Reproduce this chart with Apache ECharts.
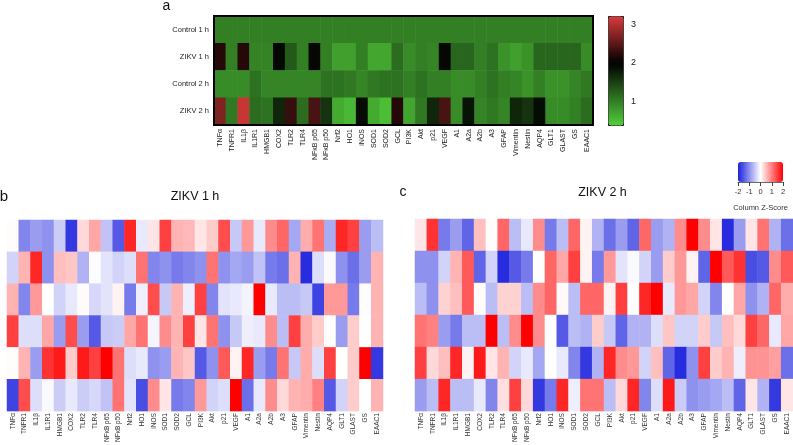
<!DOCTYPE html>
<html><head><meta charset="utf-8">
<script src="https://cdn.jsdelivr.net/npm/echarts@6/dist/echarts.min.js"></script>
<style>html,body{margin:0;padding:0;background:#fff}#c{width:793px;height:445px}</style>
</head><body><div id="c"></div>
<script>
const genes = ['TNFα','TNFR1','IL1β','IL1R1','HMGB1','COX2','TLR2','TLR4','NFκB p65','NFκB p50','Nrf2','HO1','iNOS','SOD1','SOD2','GCL','PI3K','Akt','p21','VEGF','A1','A2a','A2b','A3','GFAP','Vimentin','Nestin','AQP4','GLT1','GLAST','GS','EAAC1'];
const groupsA = ['Control 1 h','ZIKV 1 h','Control 2 h','ZIKV 2 h'];
const foldTicks = [1, 2, 3];
const zTicks = [-2, -1, 0, 1, 2];

// Panel a: fold change
const ctrl1h = [1,1,1,1,1,1,1,1,1,1,1,1,1,1,1,1,1,1,1,1,1,1,1,1,1,1,1,1,1,1,1,1];
const zikv1h = [2.2,1.0,2.2,0.97,0.97,1.95,1.3,1.0,1.97,1.0,0.75,0.75,1.0,0.68,0.68,1.15,0.9,1.0,0.95,1.97,1.2,1.2,1.0,1.1,0.85,0.75,0.85,1.2,1.2,1.2,1.2,0.9];
const ctrl2h = [0.9,0.9,0.9,1.1,0.95,0.95,0.95,0.95,0.95,1.1,1.1,1.05,0.95,1.05,1.1,1.1,1.0,1.1,1.0,1.0,0.9,0.9,1.0,1.1,1.0,0.95,0.85,1.0,0.85,0.85,0.95,1.05];
const zikv2h = [2.7,1.05,3.1,1.15,1.1,1.7,2.3,1.15,2.4,1.6,0.65,0.55,1.9,0.65,0.5,2.2,0.7,1.05,1.7,2.4,0.9,1.85,0.95,1.05,0.95,1.7,1.6,1.9,0.9,0.9,1.0,1.15];

// Panel b: ZIKV 1 h z-scores (rows top to bottom)
const bRow1 = [0.02,-1.1,-0.9,-1.0,-0.45,-1.8,0.3,0.7,-0.55,-1.5,1.7,-0.2,0.2,1.5,0.6,0.55,0.2,0.4,1.4,-0.5,0.8,-0.2,0.9,1.2,-0.8,0.65,1.1,-0.75,1.7,1.5,-0.9,-0.6];
const bRow2 = [-0.4,0.6,1.7,-1.0,0.5,0.45,-0.7,-0.02,-0.25,-0.4,-0.3,1.1,-1.1,-1.0,-1.2,-1.1,-1.0,1.1,-1.0,-0.8,-0.9,-0.55,-1.2,-1.3,0.6,-1.9,-0.3,-0.05,-1.0,-1.3,-0.9,0.6];
const bRow3 = [0.6,-1.1,0.8,0.0,-0.4,-0.2,0.03,-0.35,-0.25,0.1,-1.2,-0.15,1.4,-0.5,0.6,-0.15,1.5,-1.1,-0.25,-0.2,-0.1,2.0,-0.2,-0.6,-0.6,-0.5,-1.7,0.8,0.8,-1.2,-0.02,0.6];
const bRow4 = [1.5,-0.3,-0.3,0.7,-0.9,1.4,-0.9,-1.5,-0.5,-0.45,0.7,1.1,-0.1,0.9,0.6,1.5,0.2,1.1,-1.0,-0.5,-0.15,-0.2,0.9,-0.6,1.5,0.65,0.4,0.02,-0.9,0.4,0.0,0.6];
const bRow5 = [0.02,0.6,-0.9,1.6,1.8,0.4,1.8,1.5,2.0,1.1,-0.3,-0.2,-1.0,-0.9,0.6,0.45,-1.5,-1.0,1.3,0.1,1.7,-0.9,-1.2,1.1,-0.5,0.65,-0.3,1.5,0.0,0.4,2.0,-1.8];
const bRow6 = [-1.7,1.4,-0.3,-0.05,-0.45,-0.2,-0.45,-0.35,-0.55,1.1,-0.25,-1.6,0.9,0.2,-1.2,-1.1,0.8,-0.4,-0.3,2.0,-1.3,-0.2,0.9,0.3,0.6,0.65,1.0,-1.5,-0.4,0.4,0.0,0.6];

// Panel c: ZIKV 2 h z-scores (rows top to bottom)
const cRow1 = [0.2,1.6,-1.2,-0.9,-1.4,0.5,0.02,1.2,-0.6,-0.2,0.9,-1.2,-0.6,1.2,0.1,-0.7,-1.3,-0.9,-1.4,1.2,-0.9,-0.7,0.9,2.0,0.9,0.2,-1.9,-0.9,0.2,1.1,-0.7,-1.3];
const cRow2 = [-1.0,-1.0,-0.4,0.6,1.3,-1.4,-0.4,-1.9,-1.5,-1.2,0.0,1.2,0.7,1.5,0.1,-1.2,0.8,-0.25,-0.05,-0.4,-0.9,0.4,0.8,0.1,-1.4,2.0,1.3,1.6,-1.6,-1.5,0.9,1.3];
const cRow3 = [-0.6,-1.0,0.35,0.5,1.3,0.02,-0.6,0.35,0.35,-0.6,0.9,1.2,0.05,-0.6,1.2,1.2,0.1,1.5,0.0,1.7,2.0,-0.2,0.8,0.7,-0.4,-1.1,0.0,0.7,-1.0,-0.7,1.2,0.65];
const cRow4 = [1.1,1.0,-0.9,-1.2,-0.6,-0.6,2.0,-0.6,0.9,2.0,0.9,0.0,-1.5,-0.6,-0.7,0.4,-0.5,-1.4,-0.7,-0.7,-0.3,0.45,-0.4,-0.4,0.4,-0.5,0.5,0.3,1.5,1.2,-0.2,0.7];
const cRow5 = [1.5,0.3,0.5,1.7,0.1,1.8,0.2,0.6,-0.4,-0.2,-0.8,0.0,-0.2,-1.1,-1.8,-0.7,1.7,0.9,0.8,-0.4,0.5,-1.4,-1.9,-1.0,1.5,0.4,0.6,-0.15,0.85,0.85,0.75,-1.3];
const cRow6 = [-0.9,-0.6,1.7,-0.6,-0.6,-0.2,-1.1,0.25,1.5,0.3,-1.8,-1.2,1.7,-0.15,1.1,1.1,-0.6,0.3,1.7,-1.1,-0.3,1.8,-0.45,-1.0,-0.9,-0.8,-0.6,-1.4,0.2,-0.7,-1.8,0.2];

const rowsA = [ctrl1h, zikv1h, ctrl2h, zikv2h];
const rowsB = [bRow1,bRow2,bRow3,bRow4,bRow5,bRow6];
const rowsC = [cRow1,cRow2,cRow3,cRow4,cRow5,cRow6];
const rowIds = ['1','2','3','4','5','6'];

function toCells(rows){ const d=[]; rows.forEach((r,y)=>r.forEach((v,x)=>d.push([x,y,v]))); return d; }

// colour ramp for panel a: green -> black (at 2) -> red
const aMin = 0.377, aMax = 3.21;
const G=[82,206,58], K=[0,0,0], R=[220,58,58];
function lerp(a,b,t){return a.map((v,i)=>Math.round(v+(b[i]-v)*t));}
function aCol(v){ let c; if(v<=2){c=lerp(G,K,(v-aMin)/(2-aMin));} else {c=lerp(K,R,(v-2)/(aMax-2));} return 'rgb('+c.join(',')+')'; }
const aStops=[]; for(let i=0;i<=20;i++){aStops.push(aCol(aMin+(aMax-aMin)*i/20));}

const FONT = 'Liberation Sans, Arial, sans-serif';
const chart = echarts.init(document.getElementById('c'));

function txt(t,x,y,size){ return {type:'text', x:x, y:y, z:100, style:{text:t, font: size+'px '+FONT, fill:'#111', align:'center', verticalAlign:'middle', textAlign:'center', textVerticalAlign:'middle'}}; }

chart.setOption({
  animation:false,
  textStyle:{fontFamily:FONT},
  grid:[
    {left:214, top:16, width:379, height:109},
    {left:7, top:220, width:376, height:194},
    {left:415, top:219, width:378, height:193},
    {left:608, top:16, width:15, height:109},
    {left:738, top:162, width:45, height:20}
  ],
  xAxis:[
    {type:'category', gridIndex:0, data:genes, axisLine:{show:false}, axisTick:{show:false}, axisLabel:{rotate:90, fontSize:7, margin:4, color:'#222', interval:0}},
    {type:'category', gridIndex:1, data:genes, axisLine:{show:false}, axisTick:{show:false}, axisLabel:{rotate:90, fontSize:6.5, margin:2, color:'#333', interval:0}},
    {type:'category', gridIndex:2, data:genes, axisLine:{show:false}, axisTick:{show:false}, axisLabel:{rotate:90, fontSize:6.5, margin:2, color:'#333', interval:0}},
    {type:'value', gridIndex:3, show:false, min:0, max:1},
    {type:'value', gridIndex:4, min:-2, max:2, interval:1, position:'bottom',
      axisLine:{show:true, lineStyle:{color:'#444', width:0.8}}, axisTick:{show:true, length:4, lineStyle:{color:'#444'}},
      axisLabel:{fontSize:7.5, margin:6, color:'#333'}, splitLine:{show:false},
      name:'Column Z-Score', nameLocation:'middle', nameGap:22, nameTextStyle:{fontSize:7.5, color:'#333'}}
  ],
  yAxis:[
    {type:'category', gridIndex:0, data:groupsA, inverse:true, axisLine:{show:false}, axisTick:{show:false}, axisLabel:{fontSize:7.5, margin:5, color:'#222'}},
    {type:'category', gridIndex:1, data:rowIds, inverse:true, show:false},
    {type:'category', gridIndex:2, data:rowIds, inverse:true, show:false},
    {type:'value', gridIndex:3, min:aMin, max:aMax, position:'right',
      axisLine:{show:false}, axisTick:{show:true, length:4, lineStyle:{color:'#222'}, customValues:foldTicks},
      axisLabel:{fontSize:9, margin:8, color:'#222', customValues:foldTicks}, splitLine:{show:false}},
    {type:'value', gridIndex:4, show:false, min:0, max:1}
  ],
  visualMap:[
    {type:'continuous', seriesIndex:0, min:aMin, max:aMax, calculable:false, orient:'vertical',
      left:608, top:16, itemWidth:15, itemHeight:109, padding:0, text:null, showLabel:false,
      borderColor:'#111', borderWidth:1, inRange:{color:aStops}},
    {type:'continuous', seriesIndex:[1,2], min:-2, max:2, calculable:false, orient:'horizontal',
      left:738, top:162, itemWidth:20, itemHeight:45, padding:0, text:null, showLabel:false,
      inRange:{color:['#1c22dc','#ffffff','#ff0000']}}
  ],
  series:[
    {type:'heatmap', xAxisIndex:0, yAxisIndex:0, data:toCells(rowsA), itemStyle:{borderWidth:0}, emphasis:{disabled:true}},
    {type:'heatmap', xAxisIndex:1, yAxisIndex:1, data:toCells(rowsB), itemStyle:{borderWidth:0}, emphasis:{disabled:true}},
    {type:'heatmap', xAxisIndex:2, yAxisIndex:2, data:toCells(rowsC), itemStyle:{borderWidth:0}, emphasis:{disabled:true}}
  ],
  graphic:[
    {type:'rect', z:100, shape:{x:214, y:16, width:379, height:109}, style:{fill:'none', stroke:'#000', lineWidth:2}},
    txt('a',166.5,6,14),
    txt('b',4,197,15),
    txt('ZIKV 1 h',195,197,12.5),
    txt('c',403,192,14),
    txt('ZIKV 2 h',602.5,192.5,12.5)
  ]
});
</script></body></html>
